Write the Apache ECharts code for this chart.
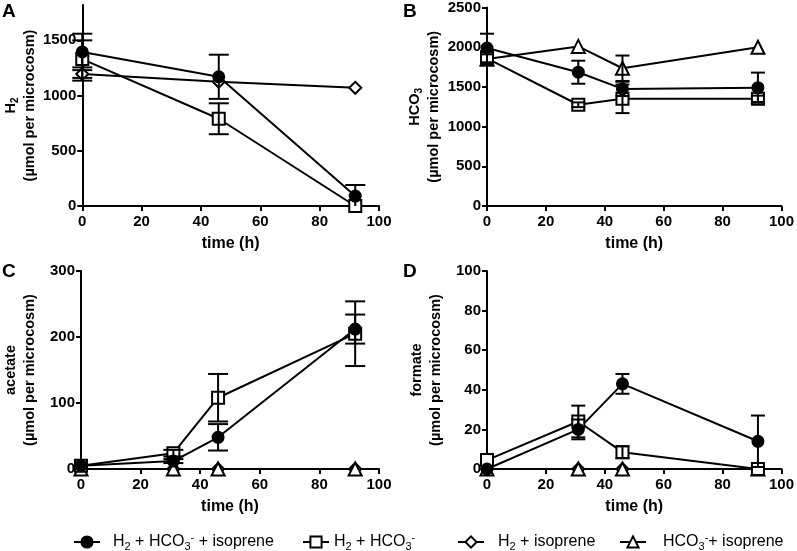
<!DOCTYPE html>
<html><head><meta charset="utf-8">
<script src="https://cdn.jsdelivr.net/npm/echarts@6/dist/echarts.min.js"></script>
<style>html,body{margin:0;padding:0;background:#fff}#c{width:797px;height:551px}</style>
</head><body><div id="c"></div>
<script>
// ---------- data ----------
const seriesNames = ['H2 + HCO3- + isoprene', 'H2 + HCO3-', 'H2 + isoprene', 'HCO3- + isoprene'];
const xTicks = [0, 20, 40, 60, 80, 100];

// Panel A: H2
const timeA = [0, 46, 92];
const aCircle = [1395, 1170, 90];
const aCircleErr = [165, 200, 100];
const aSquare = [1330, 790, 0];
const aSquareErr = [170, 140, 0];
const aDiamond = [1195, 1125, 1070];
const aDiamondErr = [60, 0, 0];
const aTicks = [0, 500, 1000, 1500];

// Panel B: HCO3
const timeB = [0, 31, 46, 92];
const bCircle = [1990, 1685, 1475, 1490];
const bCircleErr = [180, 145, 90, 190];
const bSquare = [1860, 1275, 1350, 1350];
const bSquareErr = [90, 30, 180, 40];
const bTriangle = [1850, 2010, 1735, 2000];
const bTriangleErr = [60, 0, 160, 0];
const bTicks = [0, 500, 1000, 1500, 2000, 2500];

// Panel C: acetate
const timeC = [0, 31, 46, 92];
const cCircle = [5, 12, 48, 212];
const cCircleErr = [0, 3, 20, 22];
const cSquare = [5, 24, 108, 205];
const cSquareErr = [0, 5, 36, 49];
const cDiamond = [0, 0, 0, 0];
const cTriangle = [0, 0, 0, 0];
const cTicks = [0, 100, 200, 300];

// Panel D: formate
const timeD = [0, 31, 46, 92];
const dCircle = [0, 20, 43, 14];
const dCircleErr = [0, 5, 5, 13];
const dSquare = [4.5, 24, 8.5, 0];
const dSquareErr = [0, 8, 3, 0];
const dDiamond = [0, 0, 0, 0];
const dTriangle = [0, 0, 0, 0];
const dTicks = [0, 20, 40, 60, 80, 100];

// ---------- styling ----------
const F = 'Liberation Sans, Arial, sans-serif';
const NF = '"Liberation Sans Narrow", "Arial Narrow", Liberation Sans, sans-serif';
const grids = [
  {left: 80, top: 5, width: 299, height: 201},
  {left: 487, top: 7, width: 298, height: 199},
  {left: 80, top: 271, width: 299, height: 198},
  {left: 487, top: 271, width: 298, height: 198}
];
const yMax = [1820, 2500, 300, 100];
const yTicks = [aTicks, bTicks, cTicks, dTicks];
const yNames = [
  'H{bs|2}\n(µmol per microcosm)',
  'HCO{bs|3}\n(µmol per microcosm)',
  'acetate\n(µmol per microcosm)',
  'formate\n(µmol per microcosm)'
];
const axisRich = {
  bs: {fontFamily: F, fontWeight: 'bold', fontSize: 10, lineHeight: 18, verticalAlign: 'bottom', color: '#000'}
};
const axisLine = {show: true, lineStyle: {color: '#000', width: 2}};
const axisTick = {show: true, length: 5, lineStyle: {color: '#000', width: 2}};

const xAxes = grids.map((g, i) => ({
  type: 'value', gridIndex: i, min: 0, max: 100, interval: 20,
  axisLine: axisLine, axisTick: axisTick, splitLine: {show: false},
  axisLabel: {color: '#000', fontFamily: F, fontWeight: 'bold', fontSize: 15, margin: 8, formatter: v => String(v)},
  name: 'time (h)', nameLocation: 'middle', nameGap: 30,
  nameTextStyle: {color: '#000', fontFamily: F, fontWeight: 'bold', fontSize: 16}
}));
const yAxes = grids.map((g, i) => ({
  type: 'value', gridIndex: i, min: 0, max: yMax[i],
  axisLine: axisLine, splitLine: {show: false},
  axisTick: Object.assign({customValues: yTicks[i]}, axisTick),
  axisLabel: {customValues: yTicks[i], color: '#000', fontFamily: F, fontWeight: 'bold', fontSize: 15, margin: 6, formatter: v => String(v)},
  name: yNames[i], nameLocation: 'middle', nameGap: 42,
  nameTextStyle: {color: '#000', fontFamily: F, fontWeight: 'bold', fontSize: 14.5, lineHeight: 19, rich: axisRich, align: 'center'}
}));

const symStyle = {
  'H2 + HCO3- + isoprene': {symbol: 'circle', size: 11, fill: '#000'},
  'H2 + HCO3-': {symbol: 'rect', size: 12, fill: '#fff'},
  'H2 + isoprene': {symbol: 'diamond', size: 12, fill: '#fff'},
  'HCO3- + isoprene': {symbol: 'triangle', size: 13, fill: '#fff'}
};

const series = [];
function addLine(name, gi, xs, ys) {
  const s = symStyle[name];
  series.push({
    type: 'line', name: name, xAxisIndex: gi, yAxisIndex: gi,
    data: xs.map((x, k) => [x, ys[k]]),
    symbol: s.symbol, symbolSize: s.size, showAllSymbol: true,
    lineStyle: {color: '#000', width: 2},
    itemStyle: {color: s.fill, borderColor: '#000', borderWidth: 2},
    emphasis: {disabled: true}, animation: false, z: 3, clip: false
  });
}
function addErr(gi, xs, ys, es, cap) {
  series.push({
    type: 'custom', name: 'err' + gi + '_' + series.length, xAxisIndex: gi, yAxisIndex: gi,
    data: xs.map((x, k) => [x, ys[k], es[k]]),
    z: 4, animation: false, silent: true,
    renderItem: function (params, api) {
      const x = api.value(0), y = api.value(1), e = api.value(2);
      if (!e) return null;
      const p1 = api.coord([x, y + e]), p2 = api.coord([x, Math.max(0, y - e)]);
      const st = {stroke: '#000', lineWidth: 2};
      return {type: 'group', children: [
        {type: 'line', shape: {x1: p1[0], y1: p1[1], x2: p2[0], y2: p2[1]}, style: st},
        {type: 'line', shape: {x1: p1[0] - cap, y1: p1[1], x2: p1[0] + cap, y2: p1[1]}, style: st},
        (y - e >= 0) ? {type: 'line', shape: {x1: p2[0] - cap, y1: p2[1], x2: p2[0] + cap, y2: p2[1]}, style: st} : {type: 'group'}
      ]};
    }
  });
}

// Panel A
addErr(0, timeA, aCircle, aCircleErr, 10);
addErr(0, timeA, aSquare, aSquareErr, 10);
addErr(0, timeA, aDiamond, aDiamondErr, 10);
addLine(seriesNames[2], 0, timeA, aDiamond);
addLine(seriesNames[1], 0, timeA, aSquare);
addLine(seriesNames[0], 0, timeA, aCircle);
// Panel B
addErr(1, timeB, bCircle, bCircleErr, 7);
addErr(1, timeB, bSquare, bSquareErr, 7);
addErr(1, timeB, bTriangle, bTriangleErr, 7);
addLine(seriesNames[3], 1, timeB, bTriangle);
addLine(seriesNames[1], 1, timeB, bSquare);
addLine(seriesNames[0], 1, timeB, bCircle);
// Panel C
addErr(2, timeC, cCircle, cCircleErr, 10);
addErr(2, timeC, cSquare, cSquareErr, 10);
addLine(seriesNames[2], 2, timeC, cDiamond);
addLine(seriesNames[3], 2, timeC, cTriangle);
addLine(seriesNames[1], 2, timeC, cSquare);
addLine(seriesNames[0], 2, timeC, cCircle);
// Panel D
addErr(3, timeD, dCircle, dCircleErr, 7);
addErr(3, timeD, dSquare, dSquareErr, 7);
addLine(seriesNames[2], 3, timeD, dDiamond);
addLine(seriesNames[3], 3, timeD, dTriangle);
addLine(seriesNames[1], 3, timeD, dSquare);
addLine(seriesNames[0], 3, timeD, dCircle);

const legRich = {
  n: {fontFamily: NF, fontSize: 16, lineHeight: 20, color: '#000'},
  s: {fontFamily: NF, fontSize: 11, lineHeight: 20, verticalAlign: 'bottom', color: '#000'},
  p: {fontFamily: NF, fontSize: 11, lineHeight: 20, verticalAlign: 'top', color: '#000'}
};
const legLabels = {
  'H2 + HCO3- + isoprene': '{n|H}{s|2}{n| + HCO}{s|3}{p|-}{n| + isoprene}',
  'H2 + HCO3-': '{n|H}{s|2}{n| + HCO}{s|3}{p|-}',
  'H2 + isoprene': '{n|H}{s|2}{n| + isoprene}{p|\u200b}',
  'HCO3- + isoprene': '{n|HCO}{s|3}{p|-}{n|+ isoprene}'
};
const legLeft = [73, 302, 457, 619];
const legPad = [8, 0, 9, 12];
const legends = seriesNames.map((nm, i) => ({
  data: [nm], left: legLeft[i], top: 532, itemWidth: 26, itemHeight: 14, itemGap: 0, padding: 0,
  selectedMode: false, formatter: n => legLabels[n],
  textStyle: {rich: legRich, padding: [0, 0, 0, legPad[i]]}
}));

const letters = [['A', 2, 2], ['B', 403, 2], ['C', 2, 262], ['D', 403, 262]];
const graphic = letters.map(l => ({
  type: 'text', left: l[1], top: l[2],
  style: {text: l[0], fontFamily: F, fontWeight: 'bold', fontSize: 19, fill: '#000'}
}));

const chart = echarts.init(document.getElementById('c'), null, {renderer: 'canvas'});
chart.setOption({
  animation: false, backgroundColor: '#fff',
  grid: grids.map(g => Object.assign({containLabel: false}, g)),
  xAxis: xAxes, yAxis: yAxes, series: series, legend: legends, graphic: graphic
});
</script></body></html>
